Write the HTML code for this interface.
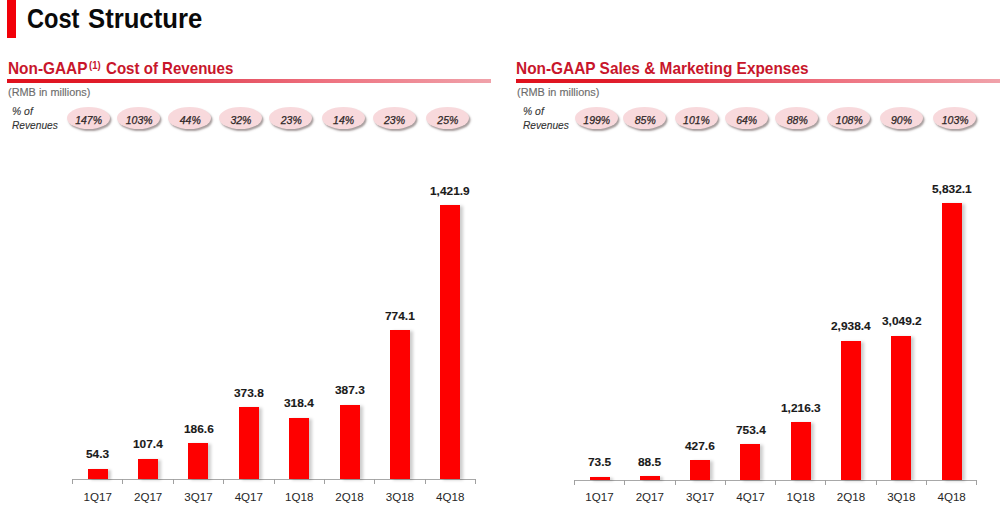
<!DOCTYPE html><html><head><meta charset="utf-8"><style>
html,body{margin:0;padding:0;}
body{width:1000px;height:510px;overflow:hidden;position:relative;background:#fff;font-family:"Liberation Sans",sans-serif;}
.t{position:absolute;white-space:nowrap;line-height:normal;transform-origin:0 0;}
.s{-webkit-text-stroke:0.25px currentColor;}
.s2{-webkit-text-stroke:0.12px currentColor;}
.pill{position:absolute;border-radius:50%;background:#f8d9dc;box-shadow:1.5px 2px 2px rgba(80,60,60,0.5);}
</style></head><body>
<div style="position:absolute;left:7.00px;top:0.00px;width:9.00px;height:37.70px;background:#f20008;"></div>
<div class="t " style="left:26.50px;top:3.66px;font-size:26.9px;font-weight:bold;font-style:normal;color:#0a0a0a;transform:scaleX(0.8783);">Cost</div>
<div class="t " style="left:88.00px;top:3.66px;font-size:26.9px;font-weight:bold;font-style:normal;color:#0a0a0a;transform:scaleX(0.9551);">Structure</div>
<div class="t " style="left:7.80px;top:59.79px;font-size:15.7px;font-weight:bold;font-style:normal;color:#c8162b;transform:scaleX(0.9802);">Non-GAAP</div>
<div class="t " style="left:88.60px;top:58.84px;font-size:11.0px;font-weight:bold;font-style:normal;color:#c8162b;transform:scaleX(0.8630);">(1)</div>
<div class="t " style="left:105.60px;top:59.79px;font-size:15.7px;font-weight:bold;font-style:normal;color:#c8162b;transform:scaleX(0.9608);">Cost of Revenues</div>
<div class="t " style="left:516.00px;top:59.79px;font-size:15.7px;font-weight:bold;font-style:normal;color:#c8162b;transform:scaleX(0.9822);">Non-GAAP Sales &amp; Marketing Expenses</div>
<div style="position:absolute;left:6.50px;top:79.00px;width:484.00px;height:4.00px;background:linear-gradient(90deg,#e0101c 0%,#e01c2a 20%,#e65464 48%,#ee7280 66%,#f0a2aa 100%);"></div>
<div style="position:absolute;left:516.00px;top:79.00px;width:484.00px;height:4.00px;background:linear-gradient(90deg,#e0101c 0%,#e01c2a 20%,#e65464 48%,#ee7280 66%,#f0a2aa 100%);"></div>
<div class="t s2" style="left:7.60px;top:86.85px;font-size:10.0px;font-weight:normal;font-style:normal;color:#6c6c6c;transform:scaleX(1.0905);">(RMB in millions)</div>
<div class="t s2" style="left:11.80px;top:105.88px;font-size:10.3px;font-weight:normal;font-style:italic;color:#333;transform:scaleX(1.0090);">% of</div>
<div class="t s2" style="left:11.80px;top:120.18px;font-size:10.3px;font-weight:normal;font-style:italic;color:#333;transform:scaleX(0.9875);">Revenues</div>
<div class="t s2" style="left:516.80px;top:86.85px;font-size:10.0px;font-weight:normal;font-style:normal;color:#6c6c6c;transform:scaleX(1.0905);">(RMB in millions)</div>
<div class="t s2" style="left:523.00px;top:105.88px;font-size:10.3px;font-weight:normal;font-style:italic;color:#333;transform:scaleX(1.0090);">% of</div>
<div class="t s2" style="left:523.00px;top:120.18px;font-size:10.3px;font-weight:normal;font-style:italic;color:#333;transform:scaleX(0.9875);">Revenues</div>
<div class="pill" style="left:66.70px;top:107px;width:43px;height:22px;"></div>
<div class="t s" style="left:75.17px;top:113.50px;font-size:10.5px;font-weight:normal;font-style:italic;color:#2e2626;transform:scaleX(1.0000);">147%</div>
<div class="pill" style="left:117.30px;top:107px;width:43px;height:22px;"></div>
<div class="t s" style="left:125.77px;top:113.50px;font-size:10.5px;font-weight:normal;font-style:italic;color:#2e2626;transform:scaleX(1.0000);">103%</div>
<div class="pill" style="left:168.40px;top:107px;width:43px;height:22px;"></div>
<div class="t s" style="left:179.79px;top:113.50px;font-size:10.5px;font-weight:normal;font-style:italic;color:#2e2626;transform:scaleX(1.0000);">44%</div>
<div class="pill" style="left:219.00px;top:107px;width:43px;height:22px;"></div>
<div class="t s" style="left:230.39px;top:113.50px;font-size:10.5px;font-weight:normal;font-style:italic;color:#2e2626;transform:scaleX(1.0000);">32%</div>
<div class="pill" style="left:269.30px;top:107px;width:43px;height:22px;"></div>
<div class="t s" style="left:280.73px;top:113.50px;font-size:10.5px;font-weight:normal;font-style:italic;color:#2e2626;transform:scaleX(1.0000);">23%</div>
<div class="pill" style="left:321.70px;top:107px;width:43px;height:22px;"></div>
<div class="t s" style="left:333.09px;top:113.50px;font-size:10.5px;font-weight:normal;font-style:italic;color:#2e2626;transform:scaleX(1.0000);">14%</div>
<div class="pill" style="left:372.60px;top:107px;width:43px;height:22px;"></div>
<div class="t s" style="left:384.03px;top:113.50px;font-size:10.5px;font-weight:normal;font-style:italic;color:#2e2626;transform:scaleX(1.0000);">23%</div>
<div class="pill" style="left:425.90px;top:107px;width:43px;height:22px;"></div>
<div class="t s" style="left:437.33px;top:113.50px;font-size:10.5px;font-weight:normal;font-style:italic;color:#2e2626;transform:scaleX(1.0000);">25%</div>
<div class="pill" style="left:574.85px;top:107px;width:43px;height:22px;"></div>
<div class="t s" style="left:583.32px;top:113.50px;font-size:10.5px;font-weight:normal;font-style:italic;color:#2e2626;transform:scaleX(1.0000);">199%</div>
<div class="pill" style="left:623.40px;top:107px;width:43px;height:22px;"></div>
<div class="t s" style="left:634.79px;top:113.50px;font-size:10.5px;font-weight:normal;font-style:italic;color:#2e2626;transform:scaleX(1.0000);">85%</div>
<div class="pill" style="left:674.60px;top:107px;width:43px;height:22px;"></div>
<div class="t s" style="left:683.07px;top:113.50px;font-size:10.5px;font-weight:normal;font-style:italic;color:#2e2626;transform:scaleX(1.0000);">101%</div>
<div class="pill" style="left:724.80px;top:107px;width:43px;height:22px;"></div>
<div class="t s" style="left:736.19px;top:113.50px;font-size:10.5px;font-weight:normal;font-style:italic;color:#2e2626;transform:scaleX(1.0000);">64%</div>
<div class="pill" style="left:775.40px;top:107px;width:43px;height:22px;"></div>
<div class="t s" style="left:786.79px;top:113.50px;font-size:10.5px;font-weight:normal;font-style:italic;color:#2e2626;transform:scaleX(1.0000);">88%</div>
<div class="pill" style="left:827.40px;top:107px;width:43px;height:22px;"></div>
<div class="t s" style="left:835.87px;top:113.50px;font-size:10.5px;font-weight:normal;font-style:italic;color:#2e2626;transform:scaleX(1.0000);">108%</div>
<div class="pill" style="left:879.60px;top:107px;width:43px;height:22px;"></div>
<div class="t s" style="left:890.99px;top:113.50px;font-size:10.5px;font-weight:normal;font-style:italic;color:#2e2626;transform:scaleX(1.0000);">90%</div>
<div class="pill" style="left:933.30px;top:107px;width:43px;height:22px;"></div>
<div class="t s" style="left:941.77px;top:113.50px;font-size:10.5px;font-weight:normal;font-style:italic;color:#2e2626;transform:scaleX(1.0000);">103%</div>
<div style="position:absolute;left:72.60px;top:478.70px;width:402.80px;height:1.30px;background:#a8a8a8;"></div>
<div style="position:absolute;left:72.10px;top:479.20px;width:1.00px;height:4.60px;background:#a0a0a0;"></div>
<div style="position:absolute;left:122.45px;top:479.20px;width:1.00px;height:4.60px;background:#a0a0a0;"></div>
<div style="position:absolute;left:172.80px;top:479.20px;width:1.00px;height:4.60px;background:#a0a0a0;"></div>
<div style="position:absolute;left:223.15px;top:479.20px;width:1.00px;height:4.60px;background:#a0a0a0;"></div>
<div style="position:absolute;left:273.50px;top:479.20px;width:1.00px;height:4.60px;background:#a0a0a0;"></div>
<div style="position:absolute;left:323.85px;top:479.20px;width:1.00px;height:4.60px;background:#a0a0a0;"></div>
<div style="position:absolute;left:374.20px;top:479.20px;width:1.00px;height:4.60px;background:#a0a0a0;"></div>
<div style="position:absolute;left:424.55px;top:479.20px;width:1.00px;height:4.60px;background:#a0a0a0;"></div>
<div style="position:absolute;left:474.90px;top:479.20px;width:1.00px;height:4.60px;background:#a0a0a0;"></div>
<div style="position:absolute;left:87.77px;top:468.74px;width:20.00px;height:10.46px;background:#fe0000;box-shadow:3px 1px 3px rgba(0,0,0,0.2);"></div>
<div class="t s2" style="left:86.19px;top:448.33px;font-size:11.5px;font-weight:bold;font-style:normal;color:#1a1a1a;transform:scaleX(1.0350);">54.3</div>
<div class="t " style="left:83.59px;top:490.40px;font-size:11.6px;font-weight:normal;font-style:normal;color:#262626;transform:scaleX(1.0000);">1Q17</div>
<div style="position:absolute;left:138.12px;top:458.50px;width:20.00px;height:20.70px;background:#fe0000;box-shadow:3px 1px 3px rgba(0,0,0,0.2);"></div>
<div class="t s2" style="left:133.23px;top:438.10px;font-size:11.5px;font-weight:bold;font-style:normal;color:#1a1a1a;transform:scaleX(1.0350);">107.4</div>
<div class="t " style="left:133.94px;top:490.40px;font-size:11.6px;font-weight:normal;font-style:normal;color:#262626;transform:scaleX(1.0000);">2Q17</div>
<div style="position:absolute;left:188.47px;top:443.24px;width:20.00px;height:35.96px;background:#fe0000;box-shadow:3px 1px 3px rgba(0,0,0,0.2);"></div>
<div class="t s2" style="left:183.58px;top:422.83px;font-size:11.5px;font-weight:bold;font-style:normal;color:#1a1a1a;transform:scaleX(1.0350);">186.6</div>
<div class="t " style="left:184.29px;top:490.40px;font-size:11.6px;font-weight:normal;font-style:normal;color:#262626;transform:scaleX(1.0000);">3Q17</div>
<div style="position:absolute;left:238.82px;top:407.17px;width:20.00px;height:72.03px;background:#fe0000;box-shadow:3px 1px 3px rgba(0,0,0,0.2);"></div>
<div class="t s2" style="left:233.93px;top:386.76px;font-size:11.5px;font-weight:bold;font-style:normal;color:#1a1a1a;transform:scaleX(1.0350);">373.8</div>
<div class="t " style="left:234.64px;top:490.40px;font-size:11.6px;font-weight:normal;font-style:normal;color:#262626;transform:scaleX(1.0000);">4Q17</div>
<div style="position:absolute;left:289.17px;top:417.84px;width:20.00px;height:61.36px;background:#fe0000;box-shadow:3px 1px 3px rgba(0,0,0,0.2);"></div>
<div class="t s2" style="left:284.28px;top:397.44px;font-size:11.5px;font-weight:bold;font-style:normal;color:#1a1a1a;transform:scaleX(1.0350);">318.4</div>
<div class="t " style="left:284.99px;top:490.40px;font-size:11.6px;font-weight:normal;font-style:normal;color:#262626;transform:scaleX(1.0000);">1Q18</div>
<div style="position:absolute;left:339.52px;top:404.57px;width:20.00px;height:74.63px;background:#fe0000;box-shadow:3px 1px 3px rgba(0,0,0,0.2);"></div>
<div class="t s2" style="left:334.63px;top:384.16px;font-size:11.5px;font-weight:bold;font-style:normal;color:#1a1a1a;transform:scaleX(1.0350);">387.3</div>
<div class="t " style="left:335.34px;top:490.40px;font-size:11.6px;font-weight:normal;font-style:normal;color:#262626;transform:scaleX(1.0000);">2Q18</div>
<div style="position:absolute;left:389.88px;top:330.03px;width:20.00px;height:149.17px;background:#fe0000;box-shadow:3px 1px 3px rgba(0,0,0,0.2);"></div>
<div class="t s2" style="left:384.98px;top:309.62px;font-size:11.5px;font-weight:bold;font-style:normal;color:#1a1a1a;transform:scaleX(1.0350);">774.1</div>
<div class="t " style="left:385.69px;top:490.40px;font-size:11.6px;font-weight:normal;font-style:normal;color:#262626;transform:scaleX(1.0000);">3Q18</div>
<div style="position:absolute;left:440.22px;top:205.20px;width:20.00px;height:274.00px;background:#fe0000;box-shadow:3px 1px 3px rgba(0,0,0,0.2);"></div>
<div class="t s2" style="left:430.37px;top:184.79px;font-size:11.5px;font-weight:bold;font-style:normal;color:#1a1a1a;transform:scaleX(1.0350);">1,421.9</div>
<div class="t " style="left:436.04px;top:490.40px;font-size:11.6px;font-weight:normal;font-style:normal;color:#262626;transform:scaleX(1.0000);">4Q18</div>
<div style="position:absolute;left:574.40px;top:479.70px;width:402.40px;height:1.30px;background:#a8a8a8;"></div>
<div style="position:absolute;left:573.90px;top:480.20px;width:1.00px;height:4.60px;background:#a0a0a0;"></div>
<div style="position:absolute;left:624.20px;top:480.20px;width:1.00px;height:4.60px;background:#a0a0a0;"></div>
<div style="position:absolute;left:674.50px;top:480.20px;width:1.00px;height:4.60px;background:#a0a0a0;"></div>
<div style="position:absolute;left:724.80px;top:480.20px;width:1.00px;height:4.60px;background:#a0a0a0;"></div>
<div style="position:absolute;left:775.10px;top:480.20px;width:1.00px;height:4.60px;background:#a0a0a0;"></div>
<div style="position:absolute;left:825.40px;top:480.20px;width:1.00px;height:4.60px;background:#a0a0a0;"></div>
<div style="position:absolute;left:875.70px;top:480.20px;width:1.00px;height:4.60px;background:#a0a0a0;"></div>
<div style="position:absolute;left:926.00px;top:480.20px;width:1.00px;height:4.60px;background:#a0a0a0;"></div>
<div style="position:absolute;left:976.30px;top:480.20px;width:1.00px;height:4.60px;background:#a0a0a0;"></div>
<div style="position:absolute;left:589.55px;top:476.71px;width:20.00px;height:3.49px;background:#fe0000;box-shadow:3px 1px 3px rgba(0,0,0,0.2);"></div>
<div class="t s2" style="left:587.97px;top:456.30px;font-size:11.5px;font-weight:bold;font-style:normal;color:#1a1a1a;transform:scaleX(1.0350);">73.5</div>
<div class="t " style="left:585.36px;top:490.40px;font-size:11.6px;font-weight:normal;font-style:normal;color:#262626;transform:scaleX(1.0000);">1Q17</div>
<div style="position:absolute;left:639.85px;top:476.00px;width:20.00px;height:4.20px;background:#fe0000;box-shadow:3px 1px 3px rgba(0,0,0,0.2);"></div>
<div class="t s2" style="left:638.27px;top:455.59px;font-size:11.5px;font-weight:bold;font-style:normal;color:#1a1a1a;transform:scaleX(1.0350);">88.5</div>
<div class="t " style="left:635.66px;top:490.40px;font-size:11.6px;font-weight:normal;font-style:normal;color:#262626;transform:scaleX(1.0000);">2Q17</div>
<div style="position:absolute;left:690.15px;top:459.91px;width:20.00px;height:20.29px;background:#fe0000;box-shadow:3px 1px 3px rgba(0,0,0,0.2);"></div>
<div class="t s2" style="left:685.26px;top:439.50px;font-size:11.5px;font-weight:bold;font-style:normal;color:#1a1a1a;transform:scaleX(1.0350);">427.6</div>
<div class="t " style="left:685.96px;top:490.40px;font-size:11.6px;font-weight:normal;font-style:normal;color:#262626;transform:scaleX(1.0000);">3Q17</div>
<div style="position:absolute;left:740.45px;top:444.45px;width:20.00px;height:35.75px;background:#fe0000;box-shadow:3px 1px 3px rgba(0,0,0,0.2);"></div>
<div class="t s2" style="left:735.56px;top:424.04px;font-size:11.5px;font-weight:bold;font-style:normal;color:#1a1a1a;transform:scaleX(1.0350);">753.4</div>
<div class="t " style="left:736.26px;top:490.40px;font-size:11.6px;font-weight:normal;font-style:normal;color:#262626;transform:scaleX(1.0000);">4Q17</div>
<div style="position:absolute;left:790.75px;top:422.49px;width:20.00px;height:57.71px;background:#fe0000;box-shadow:3px 1px 3px rgba(0,0,0,0.2);"></div>
<div class="t s2" style="left:780.90px;top:402.08px;font-size:11.5px;font-weight:bold;font-style:normal;color:#1a1a1a;transform:scaleX(1.0350);">1,216.3</div>
<div class="t " style="left:786.56px;top:490.40px;font-size:11.6px;font-weight:normal;font-style:normal;color:#262626;transform:scaleX(1.0000);">1Q18</div>
<div style="position:absolute;left:841.05px;top:340.77px;width:20.00px;height:139.43px;background:#fe0000;box-shadow:3px 1px 3px rgba(0,0,0,0.2);"></div>
<div class="t s2" style="left:831.20px;top:320.37px;font-size:11.5px;font-weight:bold;font-style:normal;color:#1a1a1a;transform:scaleX(1.0350);">2,938.4</div>
<div class="t " style="left:836.86px;top:490.40px;font-size:11.6px;font-weight:normal;font-style:normal;color:#262626;transform:scaleX(1.0000);">2Q18</div>
<div style="position:absolute;left:891.35px;top:335.52px;width:20.00px;height:144.68px;background:#fe0000;box-shadow:3px 1px 3px rgba(0,0,0,0.2);"></div>
<div class="t s2" style="left:881.50px;top:315.11px;font-size:11.5px;font-weight:bold;font-style:normal;color:#1a1a1a;transform:scaleX(1.0350);">3,049.2</div>
<div class="t " style="left:887.16px;top:490.40px;font-size:11.6px;font-weight:normal;font-style:normal;color:#262626;transform:scaleX(1.0000);">3Q18</div>
<div style="position:absolute;left:941.65px;top:203.47px;width:20.00px;height:276.73px;background:#fe0000;box-shadow:3px 1px 3px rgba(0,0,0,0.2);"></div>
<div class="t s2" style="left:931.80px;top:183.06px;font-size:11.5px;font-weight:bold;font-style:normal;color:#1a1a1a;transform:scaleX(1.0350);">5,832.1</div>
<div class="t " style="left:937.46px;top:490.40px;font-size:11.6px;font-weight:normal;font-style:normal;color:#262626;transform:scaleX(1.0000);">4Q18</div>
</body></html>
